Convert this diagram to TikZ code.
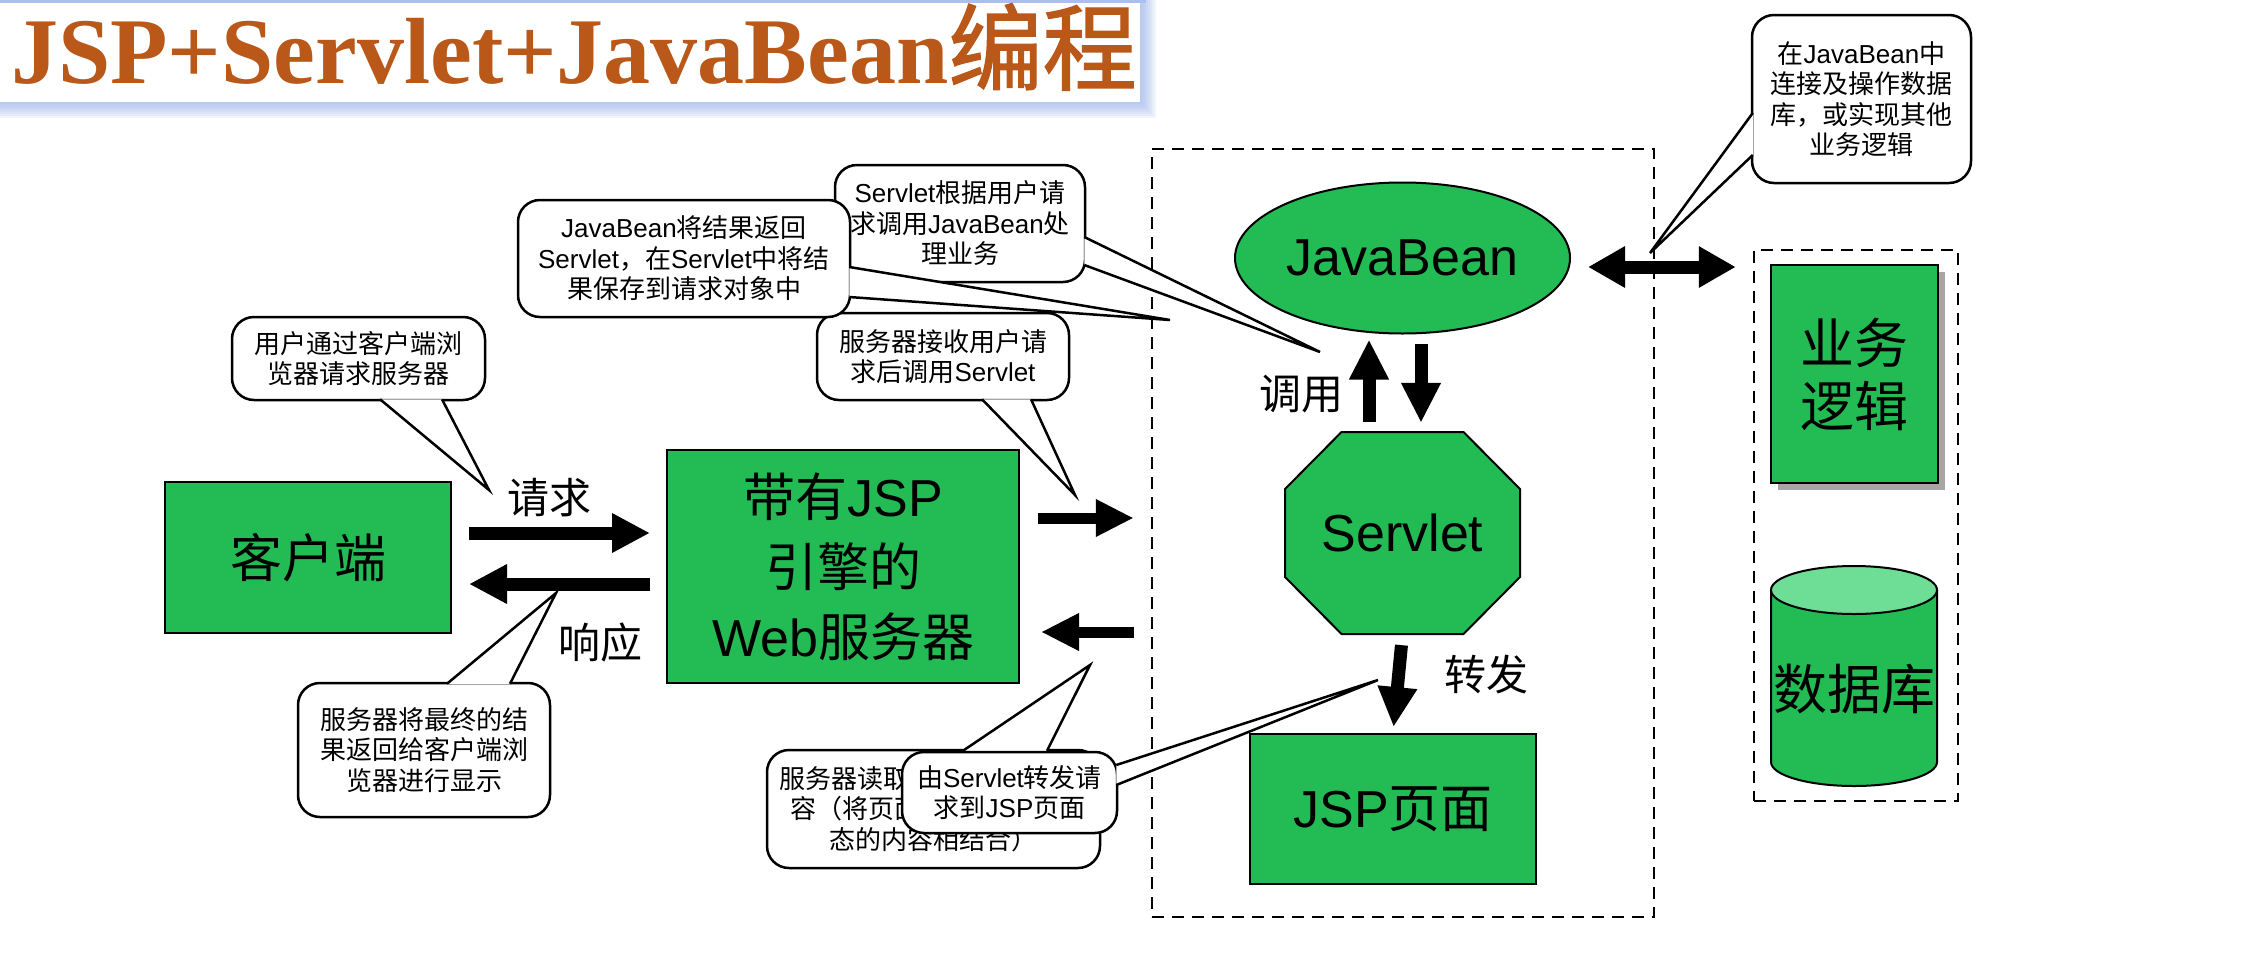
\documentclass[tikz,border=0pt]{standalone}
\usepackage{fontspec}
\setmainfont{Noto Sans CJK SC}
\newfontfamily\enfont{Liberation Sans}
\newfontfamily\titlefont{Liberation Serif}
\newfontfamily\titlezh[FakeBold=1.5]{Noto Sans CJK SC}
\usepackage{xcolor}
\usepackage{tikz}
\usetikzlibrary{shapes.geometric, positioning, arrows.meta, calc, shadows}
\definecolor{nodegreen}{RGB}{34,187,84}
\definecolor{topgreen}{RGB}{110,222,150}
\definecolor{titlebrown}{RGB}{185,88,25}
\definecolor{glowblue}{RGB}{150,175,235}
\newcommand{\ltn}[1]{{\enfont #1}}

\begin{document}
\begin{tikzpicture}[x=1pt, y=-1pt,
        greenbox/.style={draw, line width=2pt, fill=nodegreen, align=center, inner sep=0pt, font=\fontsize{52}{70}\selectfont},
        plaintext/.style={inner sep=0pt, align=center, font=\fontsize{52}{63}\selectfont},
        note/.style={draw, line width=2.5pt, fill=white, rounded corners=22pt, align=center, inner sep=0pt, font=\fontsize{26}{30.5}\selectfont},
        tail/.style={fill=white},
        tailline/.style={line width=2.5pt},
        fatarrow/.style={line width=13pt, -{Triangle[length=38pt, width=37pt]}},
        thinarrow/.style={line width=11pt, -{Triangle[length=38pt, width=35pt]}},
        uparrow/.style={line width=13pt, -{Triangle[length=40pt, width=37pt]}},
        twinarrow/.style={line width=13pt, {Triangle[length=37pt, width=39pt]}-{Triangle[length=37pt, width=39pt]}},
        frame/.style={draw, line width=2.5pt, dash pattern=on 12pt off 8pt, inner sep=0pt},
        arrowlabel/.style={inner sep=0pt, font=\fontsize{42}{48}\selectfont}
    ]
    \useasboundingbox (0,0) rectangle (2242,956);
    \fill[white] (0,0) rectangle (2242,956);

    % title banner
    \foreach \d in {1,...,8}
        \fill[glowblue, opacity=0.12] (0,0) rectangle (1140+2*\d, 102+2*\d);
    \fill[white] (0,0) rectangle (1140,102);
    \fill[glowblue!80] (0,0) rectangle (1146,3);
    \node[anchor=base west, inner sep=0pt, text=titlebrown] (title) at (11,83)
        {\fontsize{94}{100}\selectfont\titlefont\bfseries JSP+Servlet+JavaBean\titlezh\mdseries 编程};

    % dashed frames
    \node[frame, minimum width=502pt, minimum height=768pt] (webapp) at (1403,533) {};
    \node[frame, minimum width=204pt, minimum height=551pt] (dbframe) at (1856,525.5) {};

    % green blocks
    \node[greenbox, minimum width=286pt, minimum height=151pt] (client) at (308,557.5) {客户端};
    \node[greenbox, minimum width=352pt, minimum height=233pt] (server) at (843,566.5) {带有\ltn{JSP}\\引擎的\\\ltn{Web}服务器};
    \node[greenbox, ellipse, minimum width=335pt, minimum height=151pt] (javabean) at (1402.5,258) {\ltn{JavaBean}};

    \coordinate (srvc) at (1402.5,533);
    \filldraw[fill=nodegreen, line width=2pt] ($(srvc)+(-61,-101)$) -- ($(srvc)+(61,-101)$) -- ($(srvc)+(117.5,-44)$)
        -- ($(srvc)+(117.5,44)$) -- ($(srvc)+(61,101)$) -- ($(srvc)+(-61,101)$) -- ($(srvc)+(-117.5,44)$)
        -- ($(srvc)+(-117.5,-44)$) -- cycle;
    \node[plaintext, minimum width=235pt, minimum height=202pt] (servlet) at (srvc) {\ltn{Servlet}};

    \node[greenbox, minimum width=286pt, minimum height=150pt] (jsp) at (1393,809) {\ltn{JSP}页面};
    \node[greenbox, font=\fontsize{54}{63}\selectfont, minimum width=167pt, minimum height=218pt,
        drop shadow={shadow xshift=7pt, shadow yshift=-7pt, fill=black!35, opacity=1}] (logic) at (1854.5,374) {业务\\逻辑};

    % database cylinder
    \draw[line width=2pt, fill=nodegreen] (1771,590) -- (1771,762)
        arc[start angle=180, end angle=0, x radius=83, y radius=24] -- (1937,590);
    \filldraw[fill=topgreen, line width=2pt] (1854,590) ellipse[x radius=83, y radius=24];
    \node[plaintext, font=\fontsize{54}{63}\selectfont] (db) at (1854,689) {数据库};

    % arrows
    \draw[fatarrow, shorten <=17pt, shorten >=16pt] ([yshift=24.5pt]client.east) -- ([yshift=33.5pt]server.west);
    \draw[fatarrow, shorten <=16pt, shorten >=17pt] ([yshift=-17.5pt]server.west) -- ([yshift=-26.5pt]client.east);
    \draw[thinarrow, shorten <=18pt, shorten >=17pt] ([yshift=48.5pt]server.east) -- ([yshift=15pt]webapp.west);
    \draw[thinarrow, shorten <=17pt, shorten >=21pt] ([yshift=-99pt]webapp.west) -- ([yshift=-65.5pt]server.east);
    \draw[uparrow, shorten <=10pt, shorten >=5pt] ([xshift=-33.5pt]servlet.north) -- ([xshift=-33.5pt]javabean.south);
    \draw[uparrow, shorten <=9pt, shorten >=9pt] ([xshift=18.5pt]javabean.south) -- ([xshift=18.5pt]servlet.north);
    \draw[uparrow, shorten <=11pt, shorten >=6pt] (servlet.south) -- (jsp.north);
    \draw[twinarrow, shorten <=17pt, shorten >=17pt] ([yshift=-9pt]javabean.east) -- ([yshift=258.5pt]dbframe.west);

    \node[arrowlabel] (reqlabel) at (549,498) {请求};
    \node[arrowlabel] (resplabel) at (600,643) {响应};
    \node[arrowlabel] (calllabel) at (1301,394) {调用};
    \node[arrowlabel] (fwdlabel) at (1486,675) {转发};

    % callouts
    \node[note, minimum width=253pt, minimum height=83pt] (reqnote) at (358.5,358.5) {用户通过客户端浏\\览器请求服务器};
    \coordinate (reqtip) at (489,490);
    \fill[tail] ($(reqnote.south)+(21.5,-2)$) -- (reqtip) -- ($(reqnote.south)+(83.5,-2)$) -- cycle;
    \draw[tailline] ($(reqnote.south)+(21.5,-2)$) -- (reqtip) -- ($(reqnote.south)+(83.5,-2)$);

    \node[note, minimum width=252pt, minimum height=134pt] (respnote) at (424,750) {服务器将最终的结\\果返回给客户端浏\\览器进行显示};
    \coordinate (resptip) at (556,593);
    \fill[tail] ($(respnote.north)+(23,2)$) -- (resptip) -- ($(respnote.north)+(86,2)$) -- cycle;
    \draw[tailline] ($(respnote.north)+(23,2)$) -- (resptip) -- ($(respnote.north)+(86,2)$);

    \node[note, minimum width=333pt, minimum height=118pt] (readnote) at (933.5,809) {服务器读取\phantom{\ltn{JSP}页面中的内}\\容（将页面\phantom{中的静态与动}\\态的内容相结合）};
    \coordinate (readtip) at (1090,665);
    \fill[tail] ($(readnote.north)+(29.5,2)$) -- (readtip) -- ($(readnote.north)+(113.5,2)$) -- cycle;
    \draw[tailline] ($(readnote.north)+(29.5,2)$) -- (readtip) -- ($(readnote.north)+(113.5,2)$);

    \node[note, minimum width=215pt, minimum height=81pt] (fwdnote) at (1009.5,792.5) {由\ltn{Servlet}转发请\\求到\ltn{JSP}页面};
    \coordinate (fwdtip) at (1378,680);
    \fill[tail] ($(fwdnote.east)+(-2,-27.5)$) -- (fwdtip) -- ($(fwdnote.east)+(-2,-7.5)$) -- cycle;
    \draw[tailline] ($(fwdnote.east)+(-2,-27.5)$) -- (fwdtip) -- ($(fwdnote.east)+(-2,-7.5)$);

    \node[note, minimum width=252pt, minimum height=87pt] (recvnote) at (943,356.5) {服务器接收用户请\\求后调用\ltn{Servlet}};
    \coordinate (recvtip) at (1075,495);
    \fill[tail] ($(recvnote.south)+(39,-2)$) -- (recvtip) -- ($(recvnote.south)+(88,-2)$) -- cycle;
    \draw[tailline] ($(recvnote.south)+(39,-2)$) -- (recvtip) -- ($(recvnote.south)+(88,-2)$);

    \node[note, minimum width=250pt, minimum height=117pt] (callnote) at (960,223.5) {\ltn{Servlet}根据用户请\\求调用\ltn{JavaBean}处\\理业务};
    \coordinate (calltip) at (1320,352);
    \fill[tail] ($(callnote.east)+(-2,13.5)$) -- (calltip) -- ($(callnote.east)+(-2,41.5)$) -- cycle;
    \draw[tailline] ($(callnote.east)+(-2,13.5)$) -- (calltip) -- ($(callnote.east)+(-2,41.5)$);

    \node[note, minimum width=332pt, minimum height=117pt] (backnote) at (684,258.5) {\ltn{JavaBean}将结果返回\\\ltn{Servlet}，在\ltn{Servlet}中将结\\果保存到请求对象中};
    \coordinate (backtip) at (1170,320);
    \fill[tail] ($(backnote.east)+(-2,8.5)$) -- (backtip) -- ($(backnote.east)+(-2,38.5)$) -- cycle;
    \draw[tailline] ($(backnote.east)+(-2,8.5)$) -- (backtip) -- ($(backnote.east)+(-2,38.5)$);

    \node[note, minimum width=219pt, minimum height=168pt] (dbnote) at (1861.5,99) {在\ltn{JavaBean}中\\连接及操作数据\\库，或实现其他\\业务逻辑};
    \coordinate (dbtip) at (1650,253);
    \fill[tail] ($(dbnote.west)+(2,14)$) -- (dbtip) -- ($(dbnote.west)+(2,56)$) -- cycle;
    \draw[tailline] ($(dbnote.west)+(2,14)$) -- (dbtip) -- ($(dbnote.west)+(2,56)$);
\end{tikzpicture}
\end{document}
